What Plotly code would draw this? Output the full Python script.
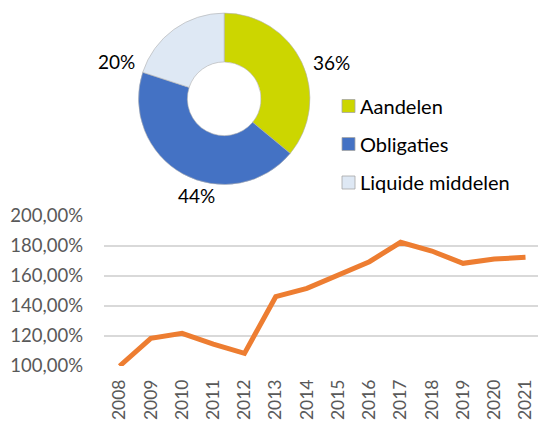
import plotly.graph_objects as go

# ---- data ----
alloc_labels = ["Aandelen", "Obligaties", "Liquide middelen"]
alloc_values = [36, 44, 20]
alloc_colors = ["#CCD600", "#4472C4", "#DEE8F4"]

years = ["2008", "2009", "2010", "2011", "2012", "2013", "2014",
         "2015", "2016", "2017", "2018", "2019", "2020", "2021"]
perf = [100.0, 118.4, 121.7, 114.6, 108.4, 146.1, 151.7,
        160.5, 169.4, 182.3, 176.5, 168.3, 171.2, 172.3]

ytick_vals = [100, 120, 140, 160, 180, 200]
ytick_text = ["100,00%", "120,00%", "140,00%", "160,00%", "180,00%", "200,00%"]

W, H = 538, 422
FONT = "Lato"

def px(x):
    return x / W

def py(y):
    return 1 - y / H

fig = go.Figure()

# donut
cx, cy, r = 224.2, 98.8, 85.7
fig.add_trace(go.Pie(
    labels=alloc_labels, values=alloc_values,
    marker=dict(colors=alloc_colors, line=dict(color="#b0b0b0", width=0.6)),
    hole=0.43, sort=False, direction="clockwise", rotation=0,
    textinfo="none", hoverinfo="label+percent", showlegend=False,
    domain=dict(x=[px(cx - r), px(cx + r)], y=[py(cy + r), py(cy - r)]),
))

# line chart
fig.add_trace(go.Scatter(
    x=years, y=perf, mode="lines",
    line=dict(color="#ED7D31", width=5),
    showlegend=False,
))

# pie percentage labels
label_pos = [(331, 63), (196, 195), (116, 62)]
for (lx, ly), v in zip(label_pos, alloc_values):
    fig.add_annotation(x=px(lx), y=py(ly), xref="paper", yref="paper",
                       text=f"{v}%", showarrow=False,
                       xanchor="center", yanchor="middle",
                       font=dict(family=FONT, size=19, color="#000000"))

# legend (manual)
leg_rows = [106, 144, 182.5]
for yy, lab, col in zip(leg_rows, alloc_labels, alloc_colors):
    fig.add_shape(type="rect", xref="paper", yref="paper",
                  x0=px(342), x1=px(355), y0=py(yy + 6.5), y1=py(yy - 6.5),
                  fillcolor=col, line=dict(color="#a6a6a6", width=0.8))
    fig.add_annotation(x=px(358), y=py(yy), xref="paper", yref="paper",
                       text=lab, showarrow=False, xanchor="left", yanchor="middle",
                       font=dict(family=FONT, size=20, color="#000000"))

fig.update_layout(
    width=W, height=H,
    margin=dict(l=0, r=0, t=0, b=0, pad=0),
    paper_bgcolor="white", plot_bgcolor="white",
    font=dict(family=FONT),
    xaxis=dict(
        domain=[px(104), 1],
        type="category",
        range=[-0.5, 13.4],
        automargin=False,
        showgrid=False, zeroline=False, showline=False,
        ticks="", tickangle=-90,
        tickfont=dict(family=FONT, size=17.5, color="#595959"),
        ticklabelstandoff=9,
        fixedrange=True,
    ),
    yaxis=dict(
        domain=[py(366), py(215.7)],
        range=[100, 200],
        automargin=False,
        tickvals=ytick_vals, ticktext=ytick_text,
        showgrid=True, gridcolor="#D9D9D9", gridwidth=1.5,
        zeroline=False, showline=False, ticks="",
        tickfont=dict(family=FONT, size=18.5, color="#595959"),
        ticklabelstandoff=20,
        fixedrange=True,
    ),
)

fig.write_html("out.html", config={"displayModeBar": False},
               post_script="document.body.style.margin='0';document.body.style.overflow='hidden';")
